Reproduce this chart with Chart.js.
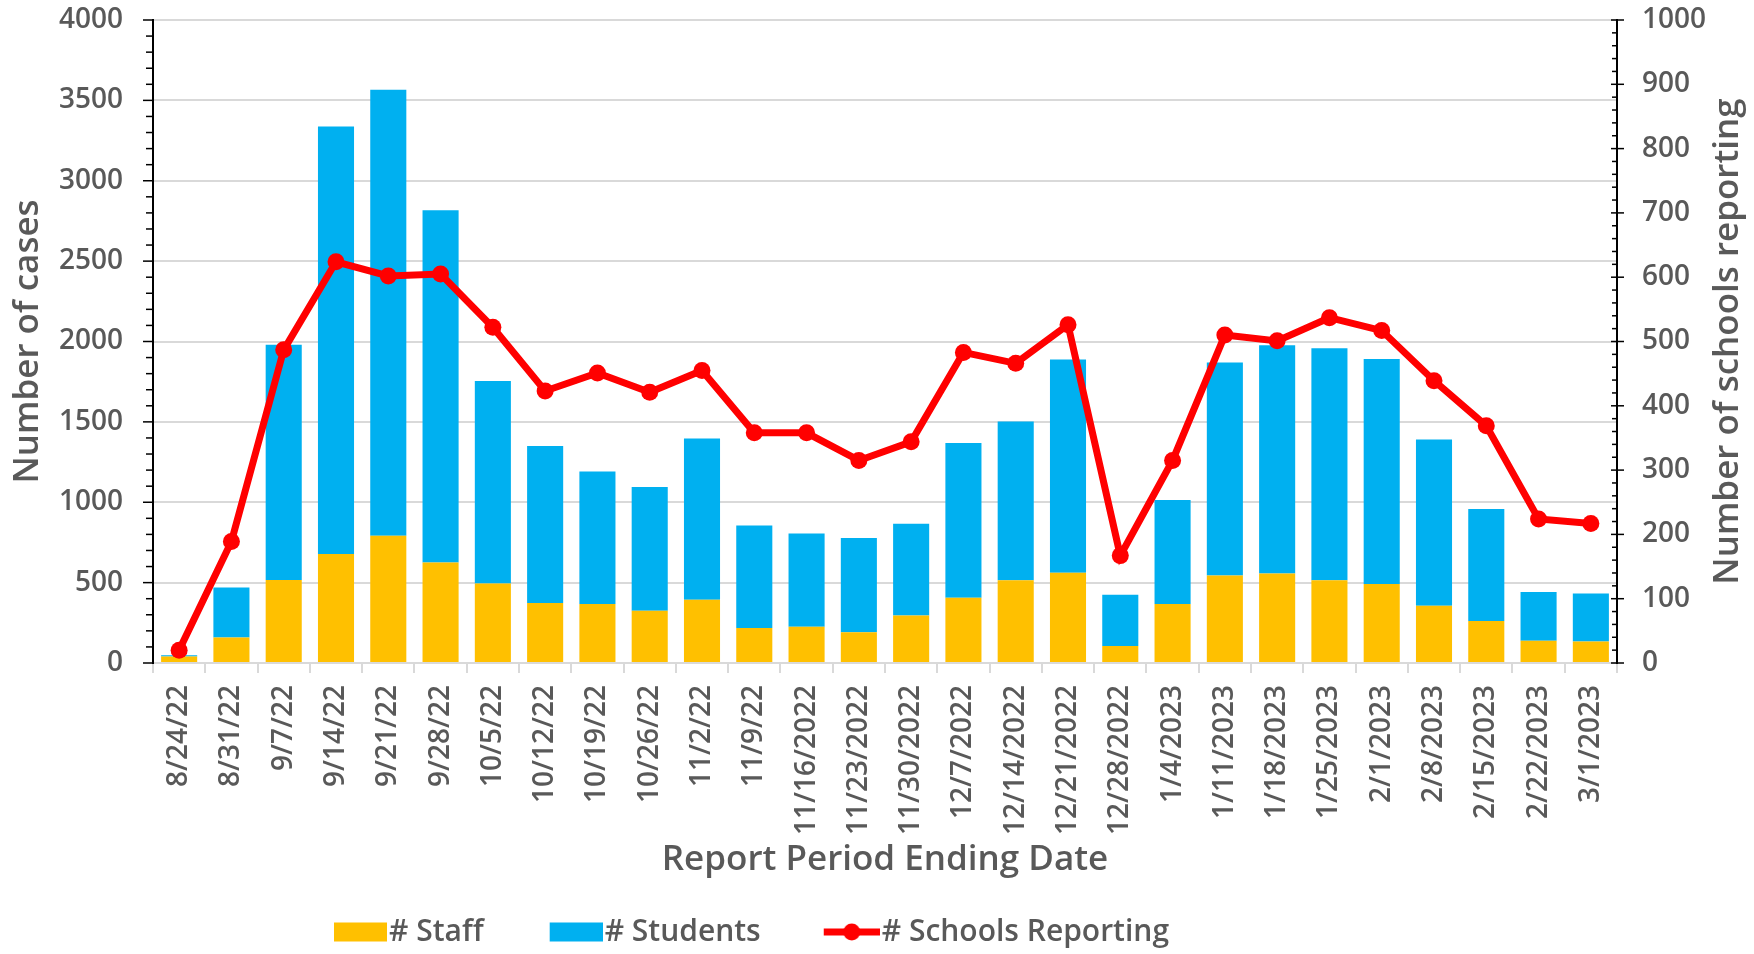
<!DOCTYPE html>
<html><head><meta charset="utf-8">
<script src="https://cdn.jsdelivr.net/npm/chart.js@4/dist/chart.umd.min.js"></script>
<style>html,body{margin:0;padding:0;background:#fff;}#wrap{width:1754px;height:954px;}</style>
</head><body><div id="wrap"><canvas id="c" width="1754" height="954"></canvas></div>
<script>
const categories = ['8/24/22','8/31/22','9/7/22','9/14/22','9/21/22','9/28/22','10/5/22','10/12/22','10/19/22','10/26/22','11/2/22','11/9/22','11/16/2022','11/23/2022','11/30/2022','12/7/2022','12/14/2022','12/21/2022','12/28/2022','1/4/2023','1/11/2023','1/18/2023','1/25/2023','2/1/2023','2/8/2023','2/15/2023','2/22/2023','3/1/2023'];
const staff = [40,159,517,678,792,625,494,373,367,325,394,217,225,192,295,406,514,561,106,367,545,556,514,492,356,261,139,134];
const students = [8,311,1463,2660,2774,2191,1261,977,825,770,1003,639,581,586,572,963,989,1327,319,647,1324,1421,1444,1399,1035,697,303,299];
const schools = [20,189,487,624,602,605,522,423,451,421,455,358,358,315,344,483,466,526,167,315,510,501,537,517,439,369,224,217];
const seriesNames = ['# Staff', '# Students', '# Schools Reporting'];
const leftAxis = {min: 0, max: 4000, major: 500, minor: 100};
const rightAxis = {min: 0, max: 1000, major: 100, minor: 20};
const xTitle = 'Report Period Ending Date';
const leftTitle = 'Number of cases';
const rightTitle = 'Number of schools reporting';

const TEXT = '#595959', GRID = '#D9D9D9';
const STAFF_C = '#FFC000', STUD_C = '#00B0F0', LINE_C = '#FF0000';
const FAMILY = "'Open Sans', 'Noto Sans', sans-serif";
Chart.defaults.font.family = FAMILY;
Chart.defaults.font.weight = '600';
Chart.defaults.color = TEXT;

const BOXW = 96;
function legendImg(kind, color) {
  const W = BOXW + 26, H = 30;
  const c = document.createElement('canvas');
  c.width = W; c.height = H;
  const g = c.getContext('2d');
  g.fillStyle = color; g.strokeStyle = color;
  if (kind === 'bar') {
    g.fillRect(W - 53, 5.5, 53, 19);
  } else {
    g.lineWidth = 7;
    g.beginPath(); g.moveTo(W - 56, H / 2); g.lineTo(W, H / 2); g.stroke();
    g.beginPath(); g.arc(W - 28, H / 2, 8.5, 0, Math.PI * 2); g.fill();
  }
  return c;
}
const legendImgs = [legendImg('bar', STAFF_C), legendImg('bar', STUD_C), legendImg('line', LINE_C)];

const axisTicks = {
  id: 'axisTicks',
  afterDraw(chart) {
    const ctx = chart.ctx, y = chart.scales.y, y1 = chart.scales.y1, a = chart.chartArea;
    ctx.save();
    ctx.strokeStyle = '#000'; ctx.lineWidth = 1.5;
    for (let v = leftAxis.min; v <= leftAxis.max; v += leftAxis.minor) {
      const p = y.getPixelForValue(v);
      const len = v % leftAxis.major === 0 ? 10 : 7;
      ctx.beginPath(); ctx.moveTo(y.right - len, p); ctx.lineTo(y.right, p); ctx.stroke();
    }
    for (let v = rightAxis.min; v <= rightAxis.max; v += rightAxis.minor) {
      const p = y1.getPixelForValue(v);
      ctx.beginPath();
      if (v % rightAxis.major === 0) { ctx.moveTo(y1.left - 6, p); ctx.lineTo(y1.left + 7, p); }
      else { ctx.moveTo(y1.left - 5, p); ctx.lineTo(y1.left, p); }
      ctx.stroke();
    }
    // right axis title, reading bottom-to-top like the left one
    ctx.fillStyle = TEXT;
    ctx.font = '600 35px ' + FAMILY;
    ctx.textAlign = 'center'; ctx.textBaseline = 'middle';
    ctx.translate(y1.right - 26, (a.top + a.bottom) / 2);
    ctx.rotate(-Math.PI / 2);
    ctx.fillText(rightTitle, 0, 0);
    ctx.restore();
  }
};
const legendShift = {
  id: 'legendShift',
  afterLayout(chart) {
    const lg = chart.legend; const w = lg.right - lg.left;
    lg.left = 268; lg.right = lg.left + w;
    lg.top += 3; lg.bottom += 3;
  }
};
const plainNum = v => String(v);

new Chart(document.getElementById('c'), {
  data: {
    labels: categories,
    datasets: [
      {type: 'bar', label: seriesNames[0], data: staff, backgroundColor: STAFF_C, yAxisID: 'y', order: 2, barPercentage: 0.69, categoryPercentage: 1},
      {type: 'bar', label: seriesNames[1], data: students, backgroundColor: STUD_C, yAxisID: 'y', order: 2, barPercentage: 0.69, categoryPercentage: 1},
      {type: 'line', label: seriesNames[2], data: schools, borderColor: LINE_C, backgroundColor: LINE_C, borderWidth: 7, pointRadius: 8.5, pointBorderWidth: 0, pointBackgroundColor: LINE_C, tension: 0, yAxisID: 'y1', order: 0}
    ]
  },
  options: {
    responsive: false, animation: false, devicePixelRatio: 1,
    layout: {padding: {top: 20, left: 0, right: 0, bottom: 0}},
    plugins: {
      tooltip: {enabled: false},
      legend: {
        position: 'bottom', align: 'start',
        labels: {
          usePointStyle: true, pointStyleWidth: BOXW, padding: 10,
          font: {size: 30, weight: '600'}, color: TEXT,
          generateLabels(chart) {
            return chart.data.datasets.map((ds, i) => ({
              text: ds.label, fillStyle: ds.backgroundColor, strokeStyle: ds.backgroundColor,
              lineWidth: 0, pointStyle: legendImgs[i], hidden: false, datasetIndex: i, fontColor: TEXT
            }));
          }
        }
      }
    },
    scales: {
      x: {
        stacked: true, offset: true,
        grid: {drawOnChartArea: false, drawTicks: true, tickLength: 10, color: GRID, lineWidth: 2, offset: true},
        border: {display: true, color: GRID, width: 2},
        ticks: {autoSkip: false, maxRotation: 90, minRotation: 90, padding: 12, font: {size: 28, weight: '600'}, color: TEXT},
        title: {display: true, text: xTitle, font: {size: 35, weight: '600'}, color: TEXT, padding: {top: 0, bottom: 23}},
        afterFit(s) { s.height = 241; }
      },
      y: {
        stacked: true, position: 'left', min: leftAxis.min, max: leftAxis.max,
        grid: {color: GRID, lineWidth: 2, drawTicks: true, tickLength: 28, tickColor: 'rgba(0,0,0,0)'},
        border: {display: true, color: '#000', width: 2},
        ticks: {stepSize: leftAxis.major, padding: 2, font: {size: 28, weight: '600'}, color: TEXT, callback: plainNum},
        title: {display: true, text: leftTitle, font: {size: 35, weight: '600'}, color: TEXT, padding: {top: 7, bottom: 0}},
        afterFit(s) { s.width = 153; }
      },
      y1: {
        position: 'right', min: rightAxis.min, max: rightAxis.max,
        grid: {drawOnChartArea: false, drawTicks: true, tickLength: 23, tickColor: 'rgba(0,0,0,0)'},
        border: {display: true, color: '#000', width: 2},
        ticks: {stepSize: rightAxis.major, padding: 2, font: {size: 28, weight: '600'}, color: TEXT, callback: plainNum},
        title: {display: false, text: rightTitle},
        afterFit(s) { s.width = 137; }
      }
    }
  },
  plugins: [axisTicks, legendShift]
});
</script></body></html>
